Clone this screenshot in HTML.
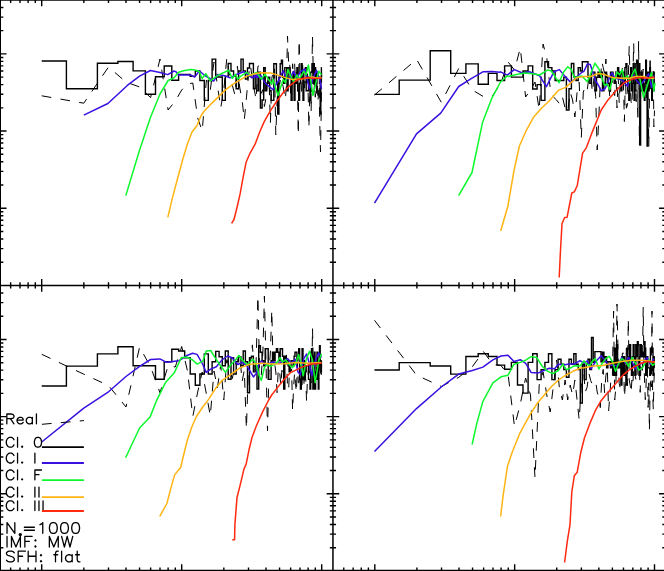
<!DOCTYPE html>
<html><head><meta charset="utf-8"><title>plot</title>
<style>html,body{margin:0;padding:0;background:#fff;font-family:"Liberation Sans",sans-serif;}svg{display:block}</style>
</head><body><svg width="664" height="571" viewBox="0 0 664 571">
<rect width="664" height="571" fill="#fff"/>
<path d="M41.7 95.8L83.8 103.2L108.5 67.0L126.0 82.0L139.6 87.0L150.6 97.6L160.0 59.0L168.1 110.0L175.3 101.0L181.7 90.0L187.5 84.0L192.8 83.0L197.7 118.0L202.2 131.0L206.4 80.0L210.3 90.0L214.0 62.0L217.4 85.0L220.7 108.0L223.8 90.0L226.8 58.0L229.6 75.0L232.3 85.0L234.9 95.0L237.4 66.3L239.8 88.0L242.1 100.0L244.3 120.0L246.4 97.9L248.5 75.4L250.5 65.0L252.4 81.2L254.3 89.6L256.1 99.6L257.9 66.4L259.6 65.5L261.2 93.3L262.9 89.6L264.4 106.5L266.0 97.7L267.5 80.7L269.0 78.5L270.4 123.1L271.8 78.3L273.1 72.0L274.5 67.4L275.8 135.0L277.1 100.0L278.3 83.5L279.6 84.3L280.8 77.6L281.9 81.2L283.1 86.4L284.2 93.1L285.4 99.5L286.4 85.4L287.5 36.0L288.6 62.0L289.6 59.1L290.6 93.2L291.6 95.0L292.6 63.8L293.6 79.8L294.6 63.1L295.5 82.0L296.4 72.0L297.4 85.4L298.3 134.8L299.1 40.0L300.0 75.0L300.9 81.4L301.7 95.5L302.6 65.1L303.4 78.3L304.2 92.6L305.0 80.8L305.8 87.9L306.6 83.7L307.4 69.1L308.1 91.0L308.9 128.0L309.6 100.0L310.4 71.6L311.1 111.9L311.8 75.5L312.5 36.0L313.2 70.0L313.9 93.0L314.6 82.0L315.3 97.2L316.0 74.3L316.6 98.0L317.3 80.4L317.9 102.2L318.6 92.0L319.2 84.3L319.8 125.0L320.5 152.0L321.1 118.0L321.7 72.0" stroke="#000" stroke-width="1.0" fill="none" stroke-linejoin="round" stroke-dasharray="9.7 9.3"/>
<path d="M41.7 61.0L66.4 61.0L66.4 88.8L97.4 88.8L97.4 63.3L117.9 63.3L117.9 61.5L133.1 61.5L133.1 70.9L145.4 70.9L145.4 94.2L155.5 94.2L155.5 76.8L164.2 76.8L164.2 66.0L171.8 66.0L171.8 80.3L178.6 80.3L178.6 74.4L184.7 74.4L184.7 74.4L190.2 74.4L190.2 76.4L195.3 76.4L195.3 71.0L199.9 71.0L199.9 80.5L204.3 80.5L204.3 100.4L208.3 100.4L208.3 80.5L212.1 80.5L212.1 59.1L215.7 59.1L215.7 77.0L219.1 77.0L219.1 77.0L222.3 77.0L222.3 100.4L225.3 100.4L225.3 76.4L228.2 76.4L228.2 63.5L231.0 63.5L231.0 71.0L233.6 71.0L233.6 76.4L236.2 76.4L236.2 88.7L238.6 88.7L238.6 71.0L241.0 71.0L241.0 59.1L243.2 59.1L243.2 71.0L245.4 71.0L245.4 79.0L247.5 79.0L247.5 68.0L249.5 68.0L249.5 63.5L251.5 63.5L251.5 63.5L253.4 63.5L253.4 88.7L255.2 88.7L255.2 76.4L257.0 76.4L257.0 90.8L258.7 90.8L258.7 72.1L260.4 72.1L260.4 108.0L262.1 108.0L262.1 100.0L263.7 100.0L263.7 67.6L265.2 67.6L265.2 90.8L266.7 90.8L266.7 83.3L268.2 83.3L268.2 77.2L269.7 77.2L269.7 90.8L271.1 90.8L271.1 100.4L272.5 100.4L272.5 100.4L273.8 100.4L273.8 63.7L275.1 63.7L275.1 63.7L276.4 63.7L276.4 83.3L277.7 83.3L277.7 114.0L278.9 114.0L278.9 77.2L280.2 77.2L280.2 63.7L281.4 63.7L281.4 60.1L282.5 60.1L282.5 77.2L283.7 77.2L283.7 83.3L284.8 83.3L284.8 67.6L285.9 67.6L285.9 67.6L287.0 67.6L287.0 90.8L288.1 90.8L288.1 67.6L289.1 67.6L289.1 67.6L290.1 67.6L290.1 77.2L291.1 77.2L291.1 100.4L292.1 100.4L292.1 77.2L293.1 77.2L293.1 72.1L294.1 72.1L294.1 100.4L295.0 100.4L295.0 77.2L296.0 77.2L296.0 83.3L296.9 83.3L296.9 67.6L297.8 67.6L297.8 90.8L298.7 90.8L298.7 100.4L299.6 100.4L299.6 83.3L300.4 83.3L300.4 77.2L301.3 77.2L301.3 63.7L302.1 63.7L302.1 77.2L303.0 77.2L303.0 100.4L303.8 100.4L303.8 72.1L304.6 72.1L304.6 72.1L305.4 72.1L305.4 67.6L306.2 67.6L306.2 90.8L307.0 90.8L307.0 90.8L307.8 90.8L307.8 90.8L308.5 90.8L308.5 77.2L309.3 77.2L309.3 77.2L310.0 77.2L310.0 100.4L310.7 100.4L310.7 72.1L311.5 72.1L311.5 72.1L312.2 72.1L312.2 63.7L312.9 63.7L312.9 83.3L313.6 83.3L313.6 63.7L314.3 63.7L314.3 83.3L315.0 83.3L315.0 67.6L315.6 67.6L315.6 83.3L316.3 83.3L316.3 83.3L317.0 83.3L317.0 72.1L317.6 72.1L317.6 77.2L318.3 77.2L318.3 77.2L318.9 77.2L318.9 77.2L319.5 77.2L319.5 83.3L320.2 83.3L320.2 114.0L320.8 114.0L320.8 77.2L321.4 77.2L321.4 67.6L321.7 67.6" stroke="#000" stroke-width="1.4" fill="none" stroke-linejoin="miter"/>
<path d="M83.8 115.2L107.9 103.5L127.6 85.2L139.6 76.1L150.4 70.5L160.0 72.5L167.8 74.6L174.1 71.0L175.7 71.6L178.5 75.0L190.5 75.0L194.6 77.0L199.4 71.0L204.2 75.0L213.7 81.0L217.8 74.4L224.6 75.8L230.1 77.8L238.3 73.7L243.8 71.7L252.0 77.8L260.0 75.0L253.4 75.0L256.9 77.5L261.4 76.0L264.9 82.8L272.9 89.6L278.6 80.5L283.2 70.8L286.6 79.3L290.0 78.2L293.5 71.3L296.9 78.2L300.4 71.9L304.9 69.0L309.5 88.5L314.1 75.9L316.4 70.2L319.8 79.3L321.5 89.0" stroke="#3a10e0" stroke-width="1.5" fill="none" stroke-linejoin="round"/>
<path d="M125.8 195.6L139.6 150.0L150.6 117.0L160.0 94.0L168.1 80.5L174.1 77.8L178.5 72.3L183.7 70.7L190.5 69.6L195.3 70.0L199.4 71.7L202.1 78.5L205.8 73.7L210.3 80.8L216.4 76.4L221.2 73.7L228.7 70.3L232.2 78.5L235.6 74.4L237.6 79.2L240.4 76.4L246.5 72.3L250.0 75.3L256.9 72.5L261.4 79.3L264.9 74.2L271.7 83.9L272.9 79.3L278.0 95.4L283.2 79.3L285.5 82.8L287.8 69.6L293.5 81.6L296.9 74.8L299.2 79.3L303.8 71.3L306.1 74.8L308.4 65.0L312.9 95.4L317.0 78.2L318.7 71.3L321.5 74.8" stroke="#0cf82c" stroke-width="1.5" fill="none" stroke-linejoin="round"/>
<path d="M167.8 217.3L172.3 198.4L178.3 175.8L182.8 159.3L187.3 144.2L191.9 132.2L197.0 125.5L200.9 116.0L203.9 111.5L211.4 103.6L216.8 98.4L225.4 89.9L233.9 83.7L246.2 76.4L253.0 74.2L260.9 72.7L270.6 73.0L278.0 75.1L285.4 77.6L292.7 79.6L302.5 78.8L312.4 76.9L316.4 78.0L321.5 77.6" stroke="#ffb414" stroke-width="1.5" fill="none" stroke-linejoin="round"/>
<path d="M231.6 223.4L234.0 219.5L237.0 207.5L240.1 193.9L243.1 177.3L246.1 162.3L250.0 153.3L255.1 144.2L259.6 132.2L264.2 121.6L270.2 111.1L276.2 102.0L283.7 92.0L287.8 87.4L295.8 81.0L299.2 79.2L307.5 77.6L314.1 78.6L321.5 78.2" stroke="#ff2a10" stroke-width="1.5" fill="none" stroke-linejoin="round"/>
<path d="M374.5 95.0L416.6 59.4L441.3 102.3L458.8 68.4L472.4 90.0L483.4 96.6L492.8 95.5L500.9 83.0L508.1 62.0L514.5 70.0L520.3 48.0L525.6 97.0L530.5 90.0L535.0 82.0L539.2 110.0L543.1 44.0L546.8 58.0L550.2 88.0L553.5 97.0L556.6 100.0L559.6 104.0L562.4 97.0L565.1 108.0L567.7 112.0L570.2 92.0L572.6 100.0L574.9 117.0L577.1 92.0L579.2 82.3L581.3 137.9L583.3 92.1L585.2 87.1L587.1 91.0L588.9 77.6L590.7 75.0L592.4 92.4L594.0 78.4L595.7 96.7L597.2 150.0L598.8 118.0L600.3 81.3L601.8 61.6L603.2 67.5L604.6 73.2L605.9 59.0L607.3 83.0L608.6 80.3L609.9 98.7L611.1 73.1L612.4 81.1L613.6 93.0L614.7 95.6L615.9 71.2L617.0 107.9L618.2 76.1L619.2 102.8L620.3 80.3L621.4 78.7L622.4 68.3L623.4 82.4L624.4 121.5L625.4 76.0L626.4 108.2L627.4 104.9L628.3 79.1L629.2 46.0L630.2 85.0L631.1 101.6L631.9 105.8L632.8 80.2L633.7 43.0L634.5 90.0L635.4 77.3L636.2 101.6L637.0 89.6L637.8 117.4L638.6 41.0L639.4 145.0L640.2 105.0L640.9 90.9L641.7 69.5L642.4 83.4L643.2 69.1L643.9 95.9L644.6 95.1L645.3 78.8L646.0 72.9L646.7 98.1L647.4 79.3L648.1 103.3L648.8 147.0L649.4 100.0L650.1 56.0L650.7 90.0L651.4 71.7L652.0 80.6L652.6 77.2L653.3 71.0L653.9 126.9L654.5 110.5" stroke="#000" stroke-width="1.0" fill="none" stroke-linejoin="round" stroke-dasharray="9.7 9.3"/>
<path d="M374.5 94.4L399.2 94.4L399.2 80.1L430.2 80.1L430.2 50.8L450.7 50.8L450.7 73.4L465.9 73.4L465.9 63.9L478.2 63.9L478.2 84.2L488.3 84.2L488.3 73.4L497.0 73.4L497.0 80.5L504.6 80.5L504.6 65.9L511.4 65.9L511.4 77.1L517.5 77.1L517.5 77.1L523.0 77.1L523.0 71.0L528.1 71.0L528.1 65.9L532.7 65.9L532.7 89.0L537.1 89.0L537.1 84.6L541.1 84.6L541.1 100.4L544.9 100.4L544.9 61.7L548.5 61.7L548.5 67.6L551.9 67.6L551.9 71.0L555.1 71.0L555.1 80.5L558.1 80.5L558.1 80.5L561.0 80.5L561.0 80.5L563.8 80.5L563.8 77.1L566.4 77.1L566.4 110.0L569.0 110.0L569.0 88.7L571.4 88.7L571.4 63.5L573.8 63.5L573.8 77.0L576.0 77.0L576.0 80.5L578.2 80.5L578.2 67.6L580.3 67.6L580.3 71.0L582.3 71.0L582.3 61.7L584.3 61.7L584.3 61.7L586.2 61.7L586.2 61.7L588.0 61.7L588.0 77.2L589.8 77.2L589.8 83.3L591.5 83.3L591.5 72.1L593.2 72.1L593.2 72.1L594.9 72.1L594.9 90.8L596.5 90.8L596.5 77.2L598.0 77.2L598.0 72.1L599.5 72.1L599.5 77.2L601.0 77.2L601.0 72.1L602.5 72.1L602.5 90.8L603.9 90.8L603.9 83.3L605.3 83.3L605.3 72.1L606.6 72.1L606.6 77.2L607.9 77.2L607.9 83.3L609.2 83.3L609.2 90.8L610.5 90.8L610.5 72.1L611.7 72.1L611.7 72.1L613.0 72.1L613.0 77.2L614.2 77.2L614.2 83.3L615.3 83.3L615.3 77.2L616.5 77.2L616.5 77.2L617.6 77.2L617.6 67.6L618.7 67.6L618.7 77.2L619.8 77.2L619.8 72.1L620.9 72.1L620.9 90.8L621.9 90.8L621.9 83.3L622.9 83.3L622.9 72.1L623.9 72.1L623.9 83.3L624.9 83.3L624.9 67.6L625.9 67.6L625.9 63.7L626.9 63.7L626.9 77.2L627.8 77.2L627.8 90.8L628.8 90.8L628.8 100.4L629.7 100.4L629.7 77.2L630.6 77.2L630.6 67.6L631.5 67.6L631.5 90.8L632.4 90.8L632.4 83.3L633.2 83.3L633.2 63.7L634.1 63.7L634.1 100.4L634.9 100.4L634.9 90.8L635.8 90.8L635.8 63.7L636.6 63.7L636.6 60.1L637.4 60.1L637.4 83.3L638.2 83.3L638.2 72.1L639.0 72.1L639.0 63.7L639.8 63.7L639.8 145.0L640.6 145.0L640.6 90.8L641.3 90.8L641.3 72.1L642.1 72.1L642.1 90.8L642.8 90.8L642.8 77.2L643.5 77.2L643.5 90.8L644.3 90.8L644.3 100.4L645.0 100.4L645.0 83.3L645.7 83.3L645.7 60.1L646.4 60.1L646.4 72.1L647.1 72.1L647.1 146.0L647.8 146.0L647.8 72.1L648.4 72.1L648.4 90.8L649.1 90.8L649.1 83.3L649.8 83.3L649.8 67.6L650.4 67.6L650.4 77.2L651.1 77.2L651.1 83.3L651.7 83.3L651.7 100.4L652.3 100.4L652.3 90.8L653.0 90.8L653.0 77.2L653.6 77.2L653.6 72.1L654.2 72.1L654.2 90.8L654.5 90.8" stroke="#000" stroke-width="1.4" fill="none" stroke-linejoin="miter"/>
<path d="M374.5 203.2L416.5 133.9L440.7 113.1L458.7 86.5L471.2 78.6L482.9 71.8L492.0 71.6L500.0 72.3L500.5 71.8L507.3 75.2L508.2 74.4L514.3 69.6L522.5 73.0L529.4 71.7L539.6 75.8L546.4 86.7L554.0 71.7L559.4 69.6L564.9 76.4L571.0 82.6L576.5 77.0L582.0 72.3L584.0 71.3L587.4 63.9L590.3 64.5L593.2 73.6L595.4 80.5L598.9 86.2L601.2 90.8L605.2 88.5L608.6 79.3L612.0 72.5L614.9 78.2L618.3 78.8L622.9 80.5L627.5 86.2L629.8 79.3L633.2 74.8L636.6 80.5L640.1 84.5L642.4 82.8L645.8 78.2L648.7 73.6L651.5 87.3L653.8 75.3" stroke="#3a10e0" stroke-width="1.5" fill="none" stroke-linejoin="round"/>
<path d="M458.6 195.6L472.0 172.5L482.5 122.6L491.5 98.9L500.5 82.0L507.3 75.9L508.2 76.4L516.4 74.4L524.6 73.0L532.8 73.7L539.6 75.0L547.8 69.9L551.2 71.0L554.6 75.8L559.0 82.6L563.5 72.3L567.6 66.9L571.0 69.0L574.5 77.8L579.2 76.4L582.0 76.0L584.0 78.2L587.4 81.6L590.9 73.6L594.9 63.3L598.9 69.0L602.3 79.3L604.6 85.6L606.9 83.9L609.8 89.6L612.6 78.2L614.9 79.3L617.2 71.9L619.5 74.8L622.3 69.6L624.1 79.3L627.5 75.9L629.8 82.8L632.1 74.8L634.9 69.0L637.2 77.0L640.1 79.3L643.5 97.6L646.4 88.5L649.2 79.3L651.5 72.5L653.8 90.8L655.0 82.8" stroke="#0cf82c" stroke-width="1.5" fill="none" stroke-linejoin="round"/>
<path d="M500.7 231.0L507.8 206.5L514.0 170.5L519.4 146.0L526.6 129.8L533.5 117.3L541.7 108.0L549.2 101.0L558.7 90.1L565.6 87.4L571.0 82.6L576.5 77.8L584.0 76.5L590.9 76.5L597.7 73.6L603.5 74.2L612.6 77.6L621.8 78.2L629.8 78.2L635.5 76.5L643.5 76.5L649.2 78.2L654.4 78.2" stroke="#ffb414" stroke-width="1.5" fill="none" stroke-linejoin="round"/>
<path d="M559.2 277.5L560.5 250.0L562.0 223.7L564.6 217.5L567.1 217.2L571.8 193.0L574.3 191.9L577.2 185.8L582.6 153.2L586.3 147.8L591.7 133.4L598.8 116.0L601.2 110.0L608.0 99.9L616.0 90.8L624.1 82.8L632.1 79.3L638.9 77.6L645.8 78.2L654.4 77.0" stroke="#ff2a10" stroke-width="1.5" fill="none" stroke-linejoin="round"/>
<path d="M41.7 354.3L83.8 374.2L108.5 385.5L126.0 407.0L139.6 347.1L150.6 366.8L160.0 392.8L168.1 365.7L175.3 367.0L181.7 346.5L187.5 371.0L192.8 416.5L197.7 392.0L202.2 372.0L206.4 394.0L210.3 416.0L214.0 371.0L217.4 388.0L220.7 365.0L223.8 400.0L226.8 359.7L229.6 367.2L232.3 378.6L234.9 365.8L237.4 360.4L239.8 354.8L242.1 381.6L244.3 370.1L246.4 429.0L248.5 365.0L250.5 361.3L252.4 344.9L254.3 373.4L256.1 362.0L257.9 296.0L259.6 372.0L261.2 376.0L262.9 352.0L264.4 296.0L266.0 362.0L267.5 431.0L269.0 372.0L270.4 352.0L271.8 310.0L273.1 366.0L274.5 362.0L275.8 371.9L277.1 392.7L278.3 368.5L279.6 370.9L280.8 385.4L281.9 370.3L283.1 374.1L284.2 359.7L285.4 362.6L286.4 354.6L287.5 386.1L288.6 390.0L289.6 367.8L290.6 371.7L291.6 368.9L292.6 410.8L293.6 387.5L294.6 372.3L295.5 383.5L296.4 392.6L297.4 362.7L298.3 382.8L299.1 382.6L300.0 374.5L300.9 385.2L301.7 391.1L302.6 374.7L303.4 370.2L304.2 387.2L305.0 376.7L305.8 380.2L306.6 401.8L307.4 379.8L308.1 373.8L308.9 359.7L309.6 379.7L310.4 379.6L311.1 382.9L311.8 382.3L312.5 328.0L313.2 360.0L313.9 384.5L314.6 378.0L315.3 376.7L316.0 382.8L316.6 367.0L317.3 363.8L317.9 363.6L318.6 376.2L319.2 354.9L319.8 369.2L320.5 372.5L321.1 379.0L321.7 363.1" stroke="#000" stroke-width="1.0" fill="none" stroke-linejoin="round" stroke-dasharray="9.7 9.3"/>
<path d="M41.7 386.0L66.4 386.0L66.4 366.1L97.4 366.1L97.4 353.9L117.9 353.9L117.9 346.7L133.1 346.7L133.1 365.7L145.4 365.7L145.4 365.7L155.5 365.7L155.5 379.2L164.2 379.2L164.2 361.8L171.8 361.8L171.8 349.2L178.6 349.2L178.6 351.0L184.7 351.0L184.7 357.8L190.2 357.8L190.2 374.0L195.3 374.0L195.3 385.3L199.9 385.3L199.9 374.0L204.3 374.0L204.3 353.9L208.3 353.9L208.3 374.0L212.1 374.0L212.1 361.8L215.7 361.8L215.7 351.4L219.1 351.4L219.1 356.7L222.3 356.7L222.3 365.7L225.3 365.7L225.3 351.0L228.2 351.0L228.2 379.2L231.0 379.2L231.0 357.8L233.6 357.8L233.6 374.0L236.2 374.0L236.2 361.8L238.6 361.8L238.6 357.0L241.0 357.0L241.0 365.7L243.2 365.7L243.2 351.0L245.4 351.0L245.4 361.8L247.5 361.8L247.5 392.8L249.5 392.8L249.5 357.8L251.5 357.8L251.5 356.2L253.4 356.2L253.4 371.9L255.2 371.9L255.2 365.8L257.0 365.8L257.0 389.0L258.7 389.0L258.7 345.6L260.4 345.6L260.4 352.3L262.1 352.3L262.1 360.7L263.7 360.7L263.7 365.8L265.2 365.8L265.2 348.7L266.7 348.7L266.7 348.7L268.2 348.7L268.2 379.4L269.7 379.4L269.7 379.4L271.1 379.4L271.1 360.7L272.5 360.7L272.5 352.3L273.8 352.3L273.8 360.7L275.1 360.7L275.1 352.3L276.4 352.3L276.4 348.7L277.7 348.7L277.7 352.3L278.9 352.3L278.9 360.7L280.2 360.7L280.2 348.7L281.4 348.7L281.4 348.7L282.5 348.7L282.5 356.2L283.7 356.2L283.7 389.0L284.8 389.0L284.8 356.2L285.9 356.2L285.9 360.7L287.0 360.7L287.0 360.7L288.1 360.7L288.1 365.8L289.1 365.8L289.1 371.9L290.1 371.9L290.1 365.8L291.1 365.8L291.1 360.7L292.1 360.7L292.1 360.7L293.1 360.7L293.1 365.8L294.1 365.8L294.1 356.2L295.0 356.2L295.0 352.3L296.0 352.3L296.0 352.3L296.9 352.3L296.9 360.7L297.8 360.7L297.8 356.2L298.7 356.2L298.7 348.7L299.6 348.7L299.6 379.4L300.4 379.4L300.4 389.0L301.3 389.0L301.3 365.8L302.1 365.8L302.1 348.7L303.0 348.7L303.0 379.4L303.8 379.4L303.8 360.7L304.6 360.7L304.6 379.4L305.4 379.4L305.4 371.9L306.2 371.9L306.2 365.8L307.0 365.8L307.0 365.8L307.8 365.8L307.8 365.8L308.5 365.8L308.5 379.4L309.3 379.4L309.3 379.4L310.0 379.4L310.0 389.0L310.7 389.0L310.7 352.3L311.5 352.3L311.5 348.7L312.2 348.7L312.2 356.2L312.9 356.2L312.9 389.0L313.6 389.0L313.6 371.9L314.3 371.9L314.3 352.3L315.0 352.3L315.0 389.0L315.6 389.0L315.6 379.4L316.3 379.4L316.3 371.9L317.0 371.9L317.0 352.3L317.6 352.3L317.6 379.4L318.3 379.4L318.3 389.0L318.9 389.0L318.9 365.8L319.5 365.8L319.5 345.6L320.2 345.6L320.2 365.8L320.8 365.8L320.8 371.9L321.4 371.9L321.4 360.7L321.7 360.7" stroke="#000" stroke-width="1.4" fill="none" stroke-linejoin="miter"/>
<path d="M41.7 442.0L83.8 408.1L108.5 391.8L126.0 376.5L139.6 366.3L150.6 359.5L159.9 358.9L166.6 362.3L179.1 360.7L187.0 355.5L192.6 353.2L197.1 354.4L202.8 364.5L206.2 372.4L210.7 369.1L216.3 366.8L222.0 360.0L227.6 356.0L232.1 357.8L237.8 364.5L242.3 362.3L246.8 365.7L250.0 371.2L253.4 376.9L256.3 373.5L259.2 363.2L261.4 360.9L264.9 364.3L269.5 363.2L272.9 362.0L279.8 363.2L284.3 360.3L287.8 358.6L291.2 363.2L295.2 359.2L298.1 372.3L300.4 374.6L303.8 358.6L306.7 354.0L309.5 364.3L311.8 375.8L315.2 360.9L318.7 352.9L321.5 357.5" stroke="#3a10e0" stroke-width="1.5" fill="none" stroke-linejoin="round"/>
<path d="M125.6 457.8L139.6 428.0L150.0 417.1L156.5 400.7L165.5 382.6L174.5 372.4L181.3 357.8L187.0 357.1L192.6 360.0L197.1 364.1L202.8 361.2L206.2 351.0L210.7 350.5L215.2 357.8L219.7 364.5L225.4 372.4L231.0 364.5L235.5 360.0L238.9 355.5L242.3 360.0L246.8 364.5L250.0 362.0L252.9 359.2L256.3 364.3L259.2 375.8L261.4 380.4L264.3 367.8L267.2 364.3L270.6 366.6L274.0 364.3L277.5 362.0L279.8 357.5L282.6 362.0L285.5 359.8L288.9 364.3L292.3 367.8L295.8 363.2L298.6 354.6L300.9 363.2L303.2 375.8L306.1 359.8L309.5 351.2L312.4 359.8L315.2 382.6L318.7 360.9L321.5 354.0" stroke="#0cf82c" stroke-width="1.5" fill="none" stroke-linejoin="round"/>
<path d="M159.7 516.3L166.9 503.5L170.8 488.4L174.7 474.9L180.7 467.3L184.3 452.3L187.3 440.2L191.9 426.7L196.4 416.5L202.4 407.5L208.4 399.6L216.0 387.8L222.0 380.5L228.8 375.8L240.0 367.9L250.0 364.3L261.4 363.2L272.9 364.0L284.3 363.8L295.8 362.6L307.2 363.2L321.5 362.6" stroke="#ffb414" stroke-width="1.5" fill="none" stroke-linejoin="round"/>
<path d="M232.3 539.8L234.6 539.8L234.9 524.6L237.0 497.5L240.1 485.4L244.0 468.9L246.1 464.3L249.1 449.3L252.1 437.2L256.6 425.2L262.7 411.6L268.7 400.0L271.7 395.0L278.6 386.1L284.3 379.2L290.1 372.9L295.8 370.1L301.5 367.2L304.9 366.1L310.7 364.3L321.5 363.2" stroke="#ff2a10" stroke-width="1.5" fill="none" stroke-linejoin="round"/>
<path d="M374.5 320.3L416.6 375.2L441.3 386.5L458.8 377.3L472.4 366.6L483.4 351.5L492.8 364.4L500.9 365.5L508.1 374.5L514.5 426.5L520.3 404.0L525.6 378.0L530.5 395.0L535.0 478.0L539.2 385.0L543.1 372.0L546.8 395.0L550.2 412.0L553.5 385.0L556.6 360.0L559.6 390.0L562.4 400.0L565.1 380.0L567.7 400.0L570.2 385.0L572.6 395.0L574.9 380.0L577.1 400.0L579.2 420.0L581.3 385.0L583.3 364.9L585.2 392.2L587.1 387.3L588.9 373.2L590.7 380.7L592.4 384.3L594.0 381.8L595.7 381.6L597.2 392.0L598.8 398.0L600.3 407.6L601.8 378.5L603.2 369.4L604.6 392.7L605.9 375.4L607.3 368.1L608.6 410.9L609.9 395.4L611.1 374.8L612.4 375.3L613.6 311.0L614.7 400.0L615.9 387.3L617.0 304.0L618.2 360.0L619.2 383.4L620.3 388.3L621.4 378.2L622.4 353.1L623.4 353.0L624.4 397.3L625.4 383.9L626.4 348.2L627.4 385.7L628.3 319.0L629.2 380.0L630.2 385.2L631.1 392.9L631.9 380.1L632.8 385.7L633.7 367.8L634.5 356.5L635.4 376.3L636.2 381.9L637.0 374.7L637.8 357.1L638.6 372.7L639.4 369.4L640.2 392.3L640.9 362.2L641.7 364.8L642.4 370.4L643.2 307.0L643.9 360.0L644.6 382.1L645.3 399.7L646.0 387.5L646.7 359.0L647.4 364.9L648.1 407.4L648.8 382.9L649.4 431.0L650.1 390.0L650.7 376.4L651.4 387.0L652.0 311.0L652.6 390.7L653.3 410.0L653.9 382.8L654.5 369.1" stroke="#000" stroke-width="1.0" fill="none" stroke-linejoin="round" stroke-dasharray="9.7 9.3"/>
<path d="M374.5 370.0L399.2 370.0L399.2 362.6L430.2 362.6L430.2 366.0L450.7 366.0L450.7 374.1L465.9 374.1L465.9 356.5L478.2 356.5L478.2 353.8L488.3 353.8L488.3 356.5L497.0 356.5L497.0 365.1L504.6 365.1L504.6 369.3L511.4 369.3L511.4 362.4L517.5 362.4L517.5 385.0L523.0 385.0L523.0 393.1L528.1 393.1L528.1 362.4L532.7 362.4L532.7 353.7L537.1 353.7L537.1 379.6L541.1 379.6L541.1 369.6L544.9 369.6L544.9 362.4L548.5 362.4L548.5 353.7L551.9 353.7L551.9 379.6L555.1 379.6L555.1 369.6L558.1 369.6L558.1 359.2L561.0 359.2L561.0 364.2L563.8 364.2L563.8 369.6L566.4 369.6L566.4 377.2L569.0 377.2L569.0 359.2L571.4 359.2L571.4 364.2L573.8 364.2L573.8 353.7L576.0 353.7L576.0 364.2L578.2 364.2L578.2 369.6L580.3 369.6L580.3 403.0L582.3 403.0L582.3 364.2L584.3 364.2L584.3 379.6L586.2 379.6L586.2 364.2L588.0 364.2L588.0 359.2L589.8 359.2L589.8 369.6L591.5 369.6L591.5 337.5L593.2 337.5L593.2 362.4L594.9 362.4L594.9 351.6L596.5 351.6L596.5 351.6L598.0 351.6L598.0 351.6L599.5 351.6L599.5 351.6L601.0 351.6L601.0 361.8L602.5 361.8L602.5 352.2L603.9 352.2L603.9 361.8L605.3 361.8L605.3 356.7L606.6 356.7L606.6 367.9L607.9 367.9L607.9 361.8L609.2 361.8L609.2 361.8L610.5 361.8L610.5 367.9L611.7 367.9L611.7 361.8L613.0 361.8L613.0 375.4L614.2 375.4L614.2 348.3L615.3 348.3L615.3 375.4L616.5 375.4L616.5 344.7L617.6 344.7L617.6 367.9L618.7 367.9L618.7 367.9L619.8 367.9L619.8 361.8L620.9 361.8L620.9 385.0L621.9 385.0L621.9 356.7L622.9 356.7L622.9 375.4L623.9 375.4L623.9 356.7L624.9 356.7L624.9 375.4L625.9 375.4L625.9 385.0L626.9 385.0L626.9 348.3L627.8 348.3L627.8 356.7L628.8 356.7L628.8 361.8L629.7 361.8L629.7 344.7L630.6 344.7L630.6 361.8L631.5 361.8L631.5 375.4L632.4 375.4L632.4 356.7L633.2 356.7L633.2 344.7L634.1 344.7L634.1 356.7L634.9 356.7L634.9 375.4L635.8 375.4L635.8 344.7L636.6 344.7L636.6 356.7L637.4 356.7L637.4 341.6L638.2 341.6L638.2 344.7L639.0 344.7L639.0 375.4L639.8 375.4L639.8 356.7L640.6 356.7L640.6 344.7L641.3 344.7L641.3 356.7L642.1 356.7L642.1 352.2L642.8 352.2L642.8 352.2L643.5 352.2L643.5 356.7L644.3 356.7L644.3 341.6L645.0 341.6L645.0 348.3L645.7 348.3L645.7 375.4L646.4 375.4L646.4 356.7L647.1 356.7L647.1 356.7L647.8 356.7L647.8 367.9L648.4 367.9L648.4 367.9L649.1 367.9L649.1 367.9L649.8 367.9L649.8 375.4L650.4 375.4L650.4 348.3L651.1 348.3L651.1 352.2L651.7 352.2L651.7 352.2L652.3 352.2L652.3 348.3L653.0 348.3L653.0 375.4L653.6 375.4L653.6 356.7L654.2 356.7L654.2 367.9L654.5 367.9" stroke="#000" stroke-width="1.4" fill="none" stroke-linejoin="miter"/>
<path d="M374.5 451.6L416.5 408.6L441.3 387.0L458.7 374.1L472.3 370.5L482.9 367.1L492.9 359.9L501.0 356.0L508.0 355.3L514.0 361.5L520.3 359.7L525.7 363.3L531.1 372.4L538.4 372.9L543.8 370.5L549.2 368.2L554.6 368.7L558.3 364.2L563.7 365.1L569.1 363.9L574.5 364.0L580.0 360.6L584.0 363.2L587.4 360.9L590.9 368.9L595.4 362.0L601.2 355.8L604.6 359.8L608.0 364.3L612.6 365.5L617.2 365.5L621.8 357.5L625.2 363.2L628.6 357.5L632.1 362.0L635.5 368.9L638.9 364.3L642.4 363.2L647.0 357.5L650.4 364.3L653.8 358.6" stroke="#3a10e0" stroke-width="1.5" fill="none" stroke-linejoin="round"/>
<path d="M472.1 444.5L476.8 423.4L482.8 401.6L492.9 382.9L501.0 376.8L508.0 375.2L514.0 364.2L520.3 362.4L525.7 360.2L531.1 356.6L536.6 357.4L542.0 366.0L547.4 371.1L552.8 373.6L558.3 370.5L562.8 364.2L566.4 369.6L570.9 367.8L574.5 365.7L580.0 366.0L584.0 360.9L586.9 364.3L589.7 365.5L592.6 360.9L595.4 358.6L598.9 368.9L602.3 363.2L605.7 358.6L609.2 356.3L612.6 362.0L615.5 371.2L618.3 364.3L621.8 358.6L625.2 360.9L628.6 366.6L632.1 357.5L635.5 363.2L638.9 370.1L642.4 367.8L645.8 362.0L649.2 359.8L652.7 365.5L655.0 363.2" stroke="#0cf82c" stroke-width="1.5" fill="none" stroke-linejoin="round"/>
<path d="M500.6 516.5L503.1 495.7L507.5 466.0L512.2 452.3L519.4 434.2L530.2 414.3L537.5 403.0L544.7 394.5L551.5 386.5L558.5 380.0L565.9 375.0L573.0 371.3L580.6 368.0L584.0 367.8L593.2 366.1L602.3 365.5L612.6 363.2L621.8 361.5L632.1 360.3L641.2 360.3L648.1 360.9L655.0 362.0" stroke="#ffb414" stroke-width="1.5" fill="none" stroke-linejoin="round"/>
<path d="M564.6 562.5L567.1 542.6L570.0 524.6L571.8 492.0L574.3 475.8L577.2 472.2L580.8 452.3L584.5 437.8L589.9 423.4L595.3 410.7L600.5 401.5L605.7 395.0L612.6 387.2L618.3 380.4L624.1 374.1L629.8 369.5L635.5 366.1L641.2 363.2L647.0 361.5L655.0 362.0" stroke="#ff2a10" stroke-width="1.5" fill="none" stroke-linejoin="round"/>
<path d="M0.25 0V571M332.95 0V571M665.40 0V571M0 0.00H666M0 285.40H666M0 570.50H666" stroke="#000" stroke-width="1.5" fill="none"/>
<path d="M10.64 0.00v3.1M10.64 285.40v-3.1M20.01 0.00v3.1M20.01 285.40v-3.1M28.13 0.00v3.1M28.13 285.40v-3.1M35.29 0.00v3.1M35.29 285.40v-3.1M41.70 0.00v6.3M41.70 285.40v-6.3M83.84 0.00v3.1M83.84 285.40v-3.1M108.50 0.00v3.1M108.50 285.40v-3.1M125.99 0.00v3.1M125.99 285.40v-3.1M139.56 0.00v3.1M139.56 285.40v-3.1M150.64 0.00v3.1M150.64 285.40v-3.1M160.01 0.00v3.1M160.01 285.40v-3.1M168.13 0.00v3.1M168.13 285.40v-3.1M175.29 0.00v3.1M175.29 285.40v-3.1M181.70 0.00v6.3M181.70 285.40v-6.3M223.84 0.00v3.1M223.84 285.40v-3.1M248.50 0.00v3.1M248.50 285.40v-3.1M265.99 0.00v3.1M265.99 285.40v-3.1M279.56 0.00v3.1M279.56 285.40v-3.1M290.64 0.00v3.1M290.64 285.40v-3.1M300.01 0.00v3.1M300.01 285.40v-3.1M308.13 0.00v3.1M308.13 285.40v-3.1M315.29 0.00v3.1M315.29 285.40v-3.1M321.70 0.00v6.3M321.70 285.40v-6.3M0.25 53.90h6.3M332.95 53.90h-6.3M0.25 30.67h3.1M332.95 30.67h-3.1M0.25 17.08h3.1M332.95 17.08h-3.1M0.25 7.44h3.1M332.95 7.44h-3.1M0.25 131.07h6.3M332.95 131.07h-6.3M0.25 107.84h3.1M332.95 107.84h-3.1M0.25 94.25h3.1M332.95 94.25h-3.1M0.25 84.61h3.1M332.95 84.61h-3.1M0.25 77.13h3.1M332.95 77.13h-3.1M0.25 71.02h3.1M332.95 71.02h-3.1M0.25 65.85h3.1M332.95 65.85h-3.1M0.25 61.38h3.1M332.95 61.38h-3.1M0.25 57.43h3.1M332.95 57.43h-3.1M0.25 208.24h6.3M332.95 208.24h-6.3M0.25 185.01h3.1M332.95 185.01h-3.1M0.25 171.42h3.1M332.95 171.42h-3.1M0.25 161.78h3.1M332.95 161.78h-3.1M0.25 154.30h3.1M332.95 154.30h-3.1M0.25 148.19h3.1M332.95 148.19h-3.1M0.25 143.02h3.1M332.95 143.02h-3.1M0.25 138.55h3.1M332.95 138.55h-3.1M0.25 134.60h3.1M332.95 134.60h-3.1M0.25 262.18h3.1M332.95 262.18h-3.1M0.25 248.59h3.1M332.95 248.59h-3.1M0.25 238.95h3.1M332.95 238.95h-3.1M0.25 231.47h3.1M332.95 231.47h-3.1M0.25 225.36h3.1M332.95 225.36h-3.1M0.25 220.19h3.1M332.95 220.19h-3.1M0.25 215.72h3.1M332.95 215.72h-3.1M0.25 211.77h3.1M332.95 211.77h-3.1M10.64 285.40v3.1M10.64 570.50v-3.1M20.01 285.40v3.1M20.01 570.50v-3.1M28.13 285.40v3.1M28.13 570.50v-3.1M35.29 285.40v3.1M35.29 570.50v-3.1M41.70 285.40v6.3M41.70 570.50v-6.3M83.84 285.40v3.1M83.84 570.50v-3.1M108.50 285.40v3.1M108.50 570.50v-3.1M125.99 285.40v3.1M125.99 570.50v-3.1M139.56 285.40v3.1M139.56 570.50v-3.1M150.64 285.40v3.1M150.64 570.50v-3.1M160.01 285.40v3.1M160.01 570.50v-3.1M168.13 285.40v3.1M168.13 570.50v-3.1M175.29 285.40v3.1M175.29 570.50v-3.1M181.70 285.40v6.3M181.70 570.50v-6.3M223.84 285.40v3.1M223.84 570.50v-3.1M248.50 285.40v3.1M248.50 570.50v-3.1M265.99 285.40v3.1M265.99 570.50v-3.1M279.56 285.40v3.1M279.56 570.50v-3.1M290.64 285.40v3.1M290.64 570.50v-3.1M300.01 285.40v3.1M300.01 570.50v-3.1M308.13 285.40v3.1M308.13 570.50v-3.1M315.29 285.40v3.1M315.29 570.50v-3.1M321.70 285.40v6.3M321.70 570.50v-6.3M0.25 339.46h6.3M332.95 339.46h-6.3M0.25 316.23h3.1M332.95 316.23h-3.1M0.25 302.64h3.1M332.95 302.64h-3.1M0.25 293.00h3.1M332.95 293.00h-3.1M0.25 416.63h6.3M332.95 416.63h-6.3M0.25 393.40h3.1M332.95 393.40h-3.1M0.25 379.81h3.1M332.95 379.81h-3.1M0.25 370.17h3.1M332.95 370.17h-3.1M0.25 362.69h3.1M332.95 362.69h-3.1M0.25 356.58h3.1M332.95 356.58h-3.1M0.25 351.41h3.1M332.95 351.41h-3.1M0.25 346.94h3.1M332.95 346.94h-3.1M0.25 342.99h3.1M332.95 342.99h-3.1M0.25 493.80h6.3M332.95 493.80h-6.3M0.25 470.57h3.1M332.95 470.57h-3.1M0.25 456.98h3.1M332.95 456.98h-3.1M0.25 447.34h3.1M332.95 447.34h-3.1M0.25 439.86h3.1M332.95 439.86h-3.1M0.25 433.75h3.1M332.95 433.75h-3.1M0.25 428.58h3.1M332.95 428.58h-3.1M0.25 424.11h3.1M332.95 424.11h-3.1M0.25 420.16h3.1M332.95 420.16h-3.1M0.25 547.74h3.1M332.95 547.74h-3.1M0.25 534.15h3.1M332.95 534.15h-3.1M0.25 524.51h3.1M332.95 524.51h-3.1M0.25 517.03h3.1M332.95 517.03h-3.1M0.25 510.92h3.1M332.95 510.92h-3.1M0.25 505.75h3.1M332.95 505.75h-3.1M0.25 501.28h3.1M332.95 501.28h-3.1M0.25 497.33h3.1M332.95 497.33h-3.1M343.77 0.00v3.1M343.77 285.40v-3.1M353.14 0.00v3.1M353.14 285.40v-3.1M361.25 0.00v3.1M361.25 285.40v-3.1M368.40 0.00v3.1M368.40 285.40v-3.1M374.80 0.00v6.3M374.80 285.40v-6.3M416.90 0.00v3.1M416.90 285.40v-3.1M441.53 0.00v3.1M441.53 285.40v-3.1M459.00 0.00v3.1M459.00 285.40v-3.1M472.55 0.00v3.1M472.55 285.40v-3.1M483.62 0.00v3.1M483.62 285.40v-3.1M492.99 0.00v3.1M492.99 285.40v-3.1M501.10 0.00v3.1M501.10 285.40v-3.1M508.25 0.00v3.1M508.25 285.40v-3.1M514.65 0.00v6.3M514.65 285.40v-6.3M556.75 0.00v3.1M556.75 285.40v-3.1M581.38 0.00v3.1M581.38 285.40v-3.1M598.85 0.00v3.1M598.85 285.40v-3.1M612.40 0.00v3.1M612.40 285.40v-3.1M623.47 0.00v3.1M623.47 285.40v-3.1M632.84 0.00v3.1M632.84 285.40v-3.1M640.95 0.00v3.1M640.95 285.40v-3.1M648.10 0.00v3.1M648.10 285.40v-3.1M654.50 0.00v6.3M654.50 285.40v-6.3M332.95 53.90h6.3M665.40 53.90h-6.3M332.95 30.67h3.1M665.40 30.67h-3.1M332.95 17.08h3.1M665.40 17.08h-3.1M332.95 7.44h3.1M665.40 7.44h-3.1M332.95 131.07h6.3M665.40 131.07h-6.3M332.95 107.84h3.1M665.40 107.84h-3.1M332.95 94.25h3.1M665.40 94.25h-3.1M332.95 84.61h3.1M665.40 84.61h-3.1M332.95 77.13h3.1M665.40 77.13h-3.1M332.95 71.02h3.1M665.40 71.02h-3.1M332.95 65.85h3.1M665.40 65.85h-3.1M332.95 61.38h3.1M665.40 61.38h-3.1M332.95 57.43h3.1M665.40 57.43h-3.1M332.95 208.24h6.3M665.40 208.24h-6.3M332.95 185.01h3.1M665.40 185.01h-3.1M332.95 171.42h3.1M665.40 171.42h-3.1M332.95 161.78h3.1M665.40 161.78h-3.1M332.95 154.30h3.1M665.40 154.30h-3.1M332.95 148.19h3.1M665.40 148.19h-3.1M332.95 143.02h3.1M665.40 143.02h-3.1M332.95 138.55h3.1M665.40 138.55h-3.1M332.95 134.60h3.1M665.40 134.60h-3.1M332.95 262.18h3.1M665.40 262.18h-3.1M332.95 248.59h3.1M665.40 248.59h-3.1M332.95 238.95h3.1M665.40 238.95h-3.1M332.95 231.47h3.1M665.40 231.47h-3.1M332.95 225.36h3.1M665.40 225.36h-3.1M332.95 220.19h3.1M665.40 220.19h-3.1M332.95 215.72h3.1M665.40 215.72h-3.1M332.95 211.77h3.1M665.40 211.77h-3.1M343.77 285.40v3.1M343.77 570.50v-3.1M353.14 285.40v3.1M353.14 570.50v-3.1M361.25 285.40v3.1M361.25 570.50v-3.1M368.40 285.40v3.1M368.40 570.50v-3.1M374.80 285.40v6.3M374.80 570.50v-6.3M416.90 285.40v3.1M416.90 570.50v-3.1M441.53 285.40v3.1M441.53 570.50v-3.1M459.00 285.40v3.1M459.00 570.50v-3.1M472.55 285.40v3.1M472.55 570.50v-3.1M483.62 285.40v3.1M483.62 570.50v-3.1M492.99 285.40v3.1M492.99 570.50v-3.1M501.10 285.40v3.1M501.10 570.50v-3.1M508.25 285.40v3.1M508.25 570.50v-3.1M514.65 285.40v6.3M514.65 570.50v-6.3M556.75 285.40v3.1M556.75 570.50v-3.1M581.38 285.40v3.1M581.38 570.50v-3.1M598.85 285.40v3.1M598.85 570.50v-3.1M612.40 285.40v3.1M612.40 570.50v-3.1M623.47 285.40v3.1M623.47 570.50v-3.1M632.84 285.40v3.1M632.84 570.50v-3.1M640.95 285.40v3.1M640.95 570.50v-3.1M648.10 285.40v3.1M648.10 570.50v-3.1M654.50 285.40v6.3M654.50 570.50v-6.3M332.95 339.46h6.3M665.40 339.46h-6.3M332.95 316.23h3.1M665.40 316.23h-3.1M332.95 302.64h3.1M665.40 302.64h-3.1M332.95 293.00h3.1M665.40 293.00h-3.1M332.95 416.63h6.3M665.40 416.63h-6.3M332.95 393.40h3.1M665.40 393.40h-3.1M332.95 379.81h3.1M665.40 379.81h-3.1M332.95 370.17h3.1M665.40 370.17h-3.1M332.95 362.69h3.1M665.40 362.69h-3.1M332.95 356.58h3.1M665.40 356.58h-3.1M332.95 351.41h3.1M665.40 351.41h-3.1M332.95 346.94h3.1M665.40 346.94h-3.1M332.95 342.99h3.1M665.40 342.99h-3.1M332.95 493.80h6.3M665.40 493.80h-6.3M332.95 470.57h3.1M665.40 470.57h-3.1M332.95 456.98h3.1M665.40 456.98h-3.1M332.95 447.34h3.1M665.40 447.34h-3.1M332.95 439.86h3.1M665.40 439.86h-3.1M332.95 433.75h3.1M665.40 433.75h-3.1M332.95 428.58h3.1M665.40 428.58h-3.1M332.95 424.11h3.1M665.40 424.11h-3.1M332.95 420.16h3.1M665.40 420.16h-3.1M332.95 547.74h3.1M665.40 547.74h-3.1M332.95 534.15h3.1M665.40 534.15h-3.1M332.95 524.51h3.1M665.40 524.51h-3.1M332.95 517.03h3.1M665.40 517.03h-3.1M332.95 510.92h3.1M665.40 510.92h-3.1M332.95 505.75h3.1M665.40 505.75h-3.1M332.95 501.28h3.1M665.40 501.28h-3.1M332.95 497.33h3.1M665.40 497.33h-3.1" stroke="#000" stroke-width="1.4" fill="none"/>
<path d="M6.84 414.01L6.84 423.80M6.84 414.01L11.43 414.01L12.96 414.48L13.47 414.95L13.98 415.88L13.98 416.81L13.47 417.74L12.96 418.21L11.43 418.67L6.84 418.67M10.41 418.67L13.98 423.80M17.04 420.07L23.16 420.07L23.16 419.14L22.65 418.21L22.14 417.74L21.12 417.28L19.59 417.28L18.57 417.74L17.55 418.67L17.04 420.07L17.04 421.00L17.55 422.40L18.57 423.33L19.59 423.80L21.12 423.80L22.14 423.33L23.16 422.40M32.34 417.28L32.34 423.80M32.34 418.67L31.32 417.74L30.30 417.28L28.77 417.28L27.75 417.74L26.73 418.67L26.22 420.07L26.22 421.00L26.73 422.40L27.75 423.33L28.77 423.80L30.30 423.80L31.32 423.33L32.34 422.40M36.42 414.01L36.42 423.80" stroke="#000" stroke-width="1.3" fill="none" stroke-linecap="round" stroke-linejoin="round"/>
<path d="M13.98 439.74L13.47 438.81L12.45 437.88L11.43 437.41L9.39 437.41L8.37 437.88L7.35 438.81L6.84 439.74L6.33 441.14L6.33 443.47L6.84 444.87L7.35 445.80L8.37 446.73L9.39 447.20L11.43 447.20L12.45 446.73L13.47 445.80L13.98 444.87M17.55 437.41L17.55 447.20M22.14 446.27L21.63 446.73L22.14 447.20L22.65 446.73L22.14 446.27M37.44 437.41L35.91 437.88L34.89 439.28L34.38 441.61L34.38 443.01L34.89 445.34L35.91 446.73L37.44 447.20L38.46 447.20L39.99 446.73L41.01 445.34L41.52 443.01L41.52 441.61L41.01 439.28L39.99 437.88L38.46 437.41L37.44 437.41" stroke="#000" stroke-width="1.3" fill="none" stroke-linecap="round" stroke-linejoin="round"/>
<path d="M13.98 455.54L13.47 454.61L12.45 453.68L11.43 453.21L9.39 453.21L8.37 453.68L7.35 454.61L6.84 455.54L6.33 456.94L6.33 459.27L6.84 460.67L7.35 461.60L8.37 462.53L9.39 463.00L11.43 463.00L12.45 462.53L13.47 461.60L13.98 460.67M17.55 453.21L17.55 463.00M22.14 462.07L21.63 462.53L22.14 463.00L22.65 462.53L22.14 462.07M34.89 453.21L34.89 463.00" stroke="#000" stroke-width="1.3" fill="none" stroke-linecap="round" stroke-linejoin="round"/>
<path d="M13.98 472.34L13.47 471.41L12.45 470.48L11.43 470.01L9.39 470.01L8.37 470.48L7.35 471.41L6.84 472.34L6.33 473.74L6.33 476.07L6.84 477.47L7.35 478.40L8.37 479.33L9.39 479.80L11.43 479.80L12.45 479.33L13.47 478.40L13.98 477.47M17.55 470.01L17.55 479.80M22.14 478.87L21.63 479.33L22.14 479.80L22.65 479.33L22.14 478.87M34.89 470.01L34.89 479.80M34.89 470.01L41.52 470.01M34.89 474.67L38.97 474.67" stroke="#000" stroke-width="1.3" fill="none" stroke-linecap="round" stroke-linejoin="round"/>
<path d="M13.98 489.54L13.47 488.61L12.45 487.68L11.43 487.21L9.39 487.21L8.37 487.68L7.35 488.61L6.84 489.54L6.33 490.94L6.33 493.27L6.84 494.67L7.35 495.60L8.37 496.53L9.39 497.00L11.43 497.00L12.45 496.53L13.47 495.60L13.98 494.67M17.55 487.21L17.55 497.00M22.14 496.07L21.63 496.53L22.14 497.00L22.65 496.53L22.14 496.07M34.89 487.21L34.89 497.00M38.97 487.21L38.97 497.00" stroke="#000" stroke-width="1.3" fill="none" stroke-linecap="round" stroke-linejoin="round"/>
<path d="M13.98 503.14L13.47 502.21L12.45 501.28L11.43 500.81L9.39 500.81L8.37 501.28L7.35 502.21L6.84 503.14L6.33 504.54L6.33 506.87L6.84 508.27L7.35 509.20L8.37 510.13L9.39 510.60L11.43 510.60L12.45 510.13L13.47 509.20L13.98 508.27M17.55 500.81L17.55 510.60M22.14 509.67L21.63 510.13L22.14 510.60L22.65 510.13L22.14 509.67M34.89 500.81L34.89 510.60M38.97 500.81L38.97 510.60M43.05 500.81L43.05 510.60" stroke="#000" stroke-width="1.3" fill="none" stroke-linecap="round" stroke-linejoin="round"/>
<path d="M7.03 522.69L7.03 533.30M7.03 522.69L14.83 533.30M14.83 522.69L14.83 533.30" stroke="#000" stroke-width="1.3" fill="none" stroke-linecap="round" stroke-linejoin="round"/>
<circle cx="20.3" cy="534.6" r="1.7" fill="#000"/>
<path d="M24.38 527.24L34.41 527.24M24.38 530.27L34.41 530.27M39.98 524.71L41.09 524.21L42.76 522.69L42.76 533.30M52.79 522.69L51.12 523.20L50.00 524.71L49.45 527.24L49.45 528.75L50.00 531.28L51.12 532.79L52.79 533.30L53.90 533.30L55.57 532.79L56.69 531.28L57.25 528.75L57.25 527.24L56.69 524.71L55.57 523.20L53.90 522.69L52.79 522.69M63.93 522.69L62.26 523.20L61.14 524.71L60.59 527.24L60.59 528.75L61.14 531.28L62.26 532.79L63.93 533.30L65.04 533.30L66.71 532.79L67.83 531.28L68.39 528.75L68.39 527.24L67.83 524.71L66.71 523.20L65.04 522.69L63.93 522.69M75.07 522.69L73.40 523.20L72.28 524.71L71.73 527.24L71.73 528.75L72.28 531.28L73.40 532.79L75.07 533.30L76.18 533.30L77.85 532.79L78.97 531.28L79.53 528.75L79.53 527.24L78.97 524.71L77.85 523.20L76.18 522.69L75.07 522.69" stroke="#000" stroke-width="1.3" fill="none" stroke-linecap="round" stroke-linejoin="round"/>
<path d="M7.03 536.39L7.03 547.00M11.48 536.39L11.48 547.00M11.48 536.39L15.94 547.00M20.40 536.39L15.94 547.00M20.40 536.39L20.40 547.00M24.85 536.39L24.85 547.00M24.85 536.39L32.09 536.39M24.85 541.45L29.31 541.45M35.44 539.93L34.88 540.43L35.44 540.94L35.99 540.43L35.44 539.93M35.44 545.99L34.88 546.50L35.44 547.00L35.99 546.50L35.44 545.99M49.36 536.39L49.36 547.00M49.36 536.39L53.82 547.00M58.27 536.39L53.82 547.00M58.27 536.39L58.27 547.00M61.61 536.39L64.40 547.00M67.18 536.39L64.40 547.00M67.18 536.39L69.97 547.00M72.75 536.39L69.97 547.00" stroke="#000" stroke-width="1.3" fill="none" stroke-linecap="round" stroke-linejoin="round"/>
<path d="M14.27 552.71L13.16 551.70L11.48 551.19L9.26 551.19L7.58 551.70L6.47 552.71L6.47 553.72L7.03 554.73L7.58 555.23L8.70 555.74L12.04 556.75L13.16 557.25L13.71 557.76L14.27 558.77L14.27 560.28L13.16 561.29L11.48 561.80L9.26 561.80L7.58 561.29L6.47 560.28M18.17 551.19L18.17 561.80M18.17 551.19L25.41 551.19M18.17 556.25L22.62 556.25M28.19 551.19L28.19 561.80M35.99 551.19L35.99 561.80M28.19 556.25L35.99 556.25M41.00 554.73L40.45 555.23L41.00 555.74L41.56 555.23L41.00 554.73M41.00 560.79L40.45 561.29L41.00 561.80L41.56 561.29L41.00 560.79M58.27 551.19L57.16 551.19L56.04 551.70L55.49 553.21L55.49 561.80M53.82 554.73L57.71 554.73M61.61 551.19L61.61 561.80M72.20 554.73L72.20 561.80M72.20 556.25L71.08 555.23L69.97 554.73L68.30 554.73L67.18 555.23L66.07 556.25L65.51 557.76L65.51 558.77L66.07 560.28L67.18 561.29L68.30 561.80L69.97 561.80L71.08 561.29L72.20 560.28M77.21 551.19L77.21 559.78L77.77 561.29L78.88 561.80L80.00 561.80M75.54 554.73L79.44 554.73" stroke="#000" stroke-width="1.3" fill="none" stroke-linecap="round" stroke-linejoin="round"/>
<path d="M41.9 424.3L83.9 420.6" stroke="#000" stroke-width="1.0" fill="none" stroke-linejoin="round" stroke-dasharray="9.7 9.3"/>
<path d="M41.9 447.2L83.9 447.2" stroke="#000" stroke-width="1.7" fill="none" stroke-linejoin="round"/>
<path d="M41.9 463.0L83.9 463.0" stroke="#3a10e0" stroke-width="1.85" fill="none" stroke-linejoin="round"/>
<path d="M41.9 480.1L83.9 480.1" stroke="#0cf82c" stroke-width="1.85" fill="none" stroke-linejoin="round"/>
<path d="M41.9 497.1L83.9 497.1" stroke="#ffb414" stroke-width="1.85" fill="none" stroke-linejoin="round"/>
<path d="M41.9 511.0L83.9 511.0" stroke="#ff2a10" stroke-width="1.85" fill="none" stroke-linejoin="round"/>
</svg></body></html>
